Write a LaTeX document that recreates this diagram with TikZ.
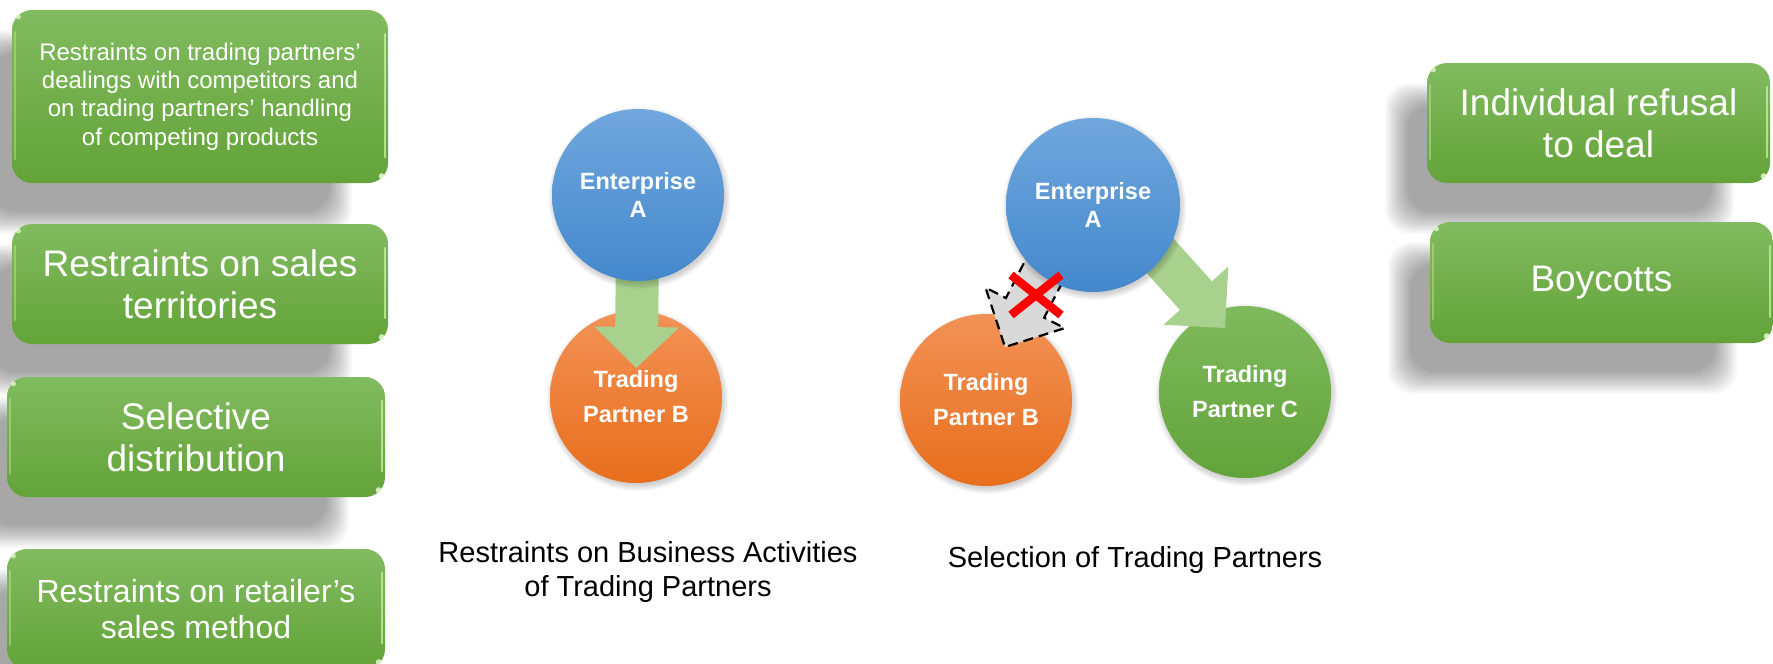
\documentclass[tikz,border=0pt]{standalone}
\usepackage{fontspec}
\setmainfont{Liberation Sans}
\usetikzlibrary{calc}

\definecolor{boxtop}{RGB}{129,187,96}
\definecolor{boxbot}{RGB}{99,163,56}
\definecolor{bluetop}{RGB}{112,167,221}
\definecolor{bluebot}{RGB}{68,136,204}
\definecolor{orangetop}{RGB}{242,146,86}
\definecolor{orangebot}{RGB}{232,110,28}
\definecolor{greentop}{RGB}{127,186,93}
\definecolor{greenbot}{RGB}{98,163,58}
\definecolor{arrowgreen}{RGB}{169,209,142}
\definecolor{rejectgray}{RGB}{217,217,217}
\definecolor{glintc}{RGB}{205,242,165}

\pgfdeclarelayer{front}
\pgfdeclarelayer{top}
\pgfsetlayers{main,front,top}

\tikzset{
  gbox/.style={draw=none, rounded corners=20pt, top color=boxtop, bottom color=boxbot,
    text=white, align=center, inner sep=0pt},
  bigtxt/.style={font=\fontsize{37}{41.7}\selectfont},
  party/.style={circle, inner sep=0pt, minimum size=172pt, text=white, align=center},
  entfont/.style={font=\bfseries\fontsize{23.5}{28}\selectfont},
  tpfont/.style={font=\bfseries\fontsize{23.5}{35}\selectfont},
  bluefill/.style={top color=bluetop, bottom color=bluebot},
  orangefill/.style={top color=orangetop, bottom color=orangebot},
  greenfill/.style={top color=greentop, bottom color=greenbot},
  caption/.style={inner sep=0pt, text=black, align=center, font=\fontsize{29}{34}\selectfont},
  keeparrow/.style={fill=arrowgreen},
  droparrow/.style={fill=rejectgray, draw=black, line width=2.2pt, dash pattern=on 10pt off 6pt, line join=miter},
  crossline/.style={draw=red, line width=8.5pt}
}

% soft shadow under a box: stacked translucent rounded rectangles
\newcommand\boxshadow[4]{%
  \foreach \k in {0,...,15}{%
    \fill[black, opacity=0.022, rounded corners=24pt]
      ({#1+\k*1.5},{#2+\k*1.5}) rectangle ({#3-\k*1.5},{#4-\k*1.5});}}

% soft shadow under a disc
\newcommand\discshadow[2]{%
  \foreach \k in {0,...,5}{%
    \fill[black, opacity=0.03] ($(#1)+(1.5,3)$) circle[radius={#2+5-\k*1.2}];}}

% glossy edge highlights of a box
\newcommand\glint[1]{%
  \draw[glintc, line width=2pt, opacity=0.75, line cap=round]
    ([xshift=-3.5pt,yshift=-24pt]#1.north east) -- ([xshift=-3.5pt,yshift=26pt]#1.south east);
  \draw[glintc, line width=2pt, opacity=0.4, line cap=round]
    ([xshift=3.5pt,yshift=-22pt]#1.north west) -- ([xshift=3.5pt,yshift=24pt]#1.south west);
  \fill[glintc!50!white, opacity=0.85] ([xshift=-6.5pt,yshift=7pt]#1.south east) circle[radius=3pt];
  \fill[glintc!50!white, opacity=0.75] ([xshift=6.5pt,yshift=-7pt]#1.north west) circle[radius=2.6pt];}

% block arrow: start, tip, head length, head half-width, shaft half-width, style
\newcommand\blockarrow[6]{%
  \coordinate (ba-h) at ($(#2)!#3!(#1)$);
  \path[#6] ($(#1)!#5!90:(#2)$) -- ($(ba-h)!#5!90:(#2)$) -- ($(ba-h)!#4!90:(#2)$)
    -- (#2) -- ($(ba-h)!#4!-90:(#2)$) -- ($(ba-h)!#5!-90:(#2)$) -- ($(#1)!#5!-90:(#2)$) -- cycle;}

\begin{document}
\begin{tikzpicture}[x=1pt,y=-1pt]
\useasboundingbox (0,0) rectangle (1773,664);
\fill[white] (0,0) rectangle (1773,664);
\clip (0,0) rectangle (1773,664);

% ---------- box shadows ----------
\boxshadow{-30}{30}{352}{234}
\boxshadow{-30}{244}{352}{395}
\boxshadow{-35}{397}{349}{548}
\boxshadow{-35}{569}{349}{720}
\boxshadow{1385}{83}{1734}{234}
\boxshadow{1388}{242}{1737}{394}

% ---------- left column ----------
\node[gbox, minimum width=376pt, minimum height=173pt, font=\fontsize{24}{28.3}\selectfont] (L1) at (200,96.5)
  {Restraints on trading partners’\\dealings with competitors and\\on trading partners’ handling\\of competing products};
\node[gbox, bigtxt, minimum width=376pt, minimum height=120pt] (L2) at (200,284) {Restraints on sales\\territories};
\node[gbox, bigtxt, minimum width=378pt, minimum height=120pt] (L3) at (196,437) {Selective\\distribution};
\node[gbox, minimum width=378pt, minimum height=120pt, font=\fontsize{32}{36.7}\selectfont] (L4) at (196,609)
  {Restraints on retailer’s\\sales method};

% ---------- right column ----------
\node[gbox, bigtxt, minimum width=343pt, minimum height=120pt] (R1) at (1598.5,123) {Individual refusal\\to deal};
\node[gbox, bigtxt, minimum width=343pt, minimum height=121pt] (R2) at (1601.5,282.5) {Boycotts};

\glint{L1}\glint{L2}\glint{L3}\glint{L4}\glint{R1}\glint{R2}

% ---------- first scheme: restraint on a trading partner ----------
\coordinate (pA1) at (638,195);
\coordinate (pB1) at (636,397);
\discshadow{pB1}{86}
\node[party, orangefill, tpfont] (B1) at (pB1) {Trading\\Partner B};
\begin{pgfonlayer}{front}
  \discshadow{pA1}{86}
  \node[party, bluefill, entfont] (A1) at (pA1) {Enterprise\\A};
\end{pgfonlayer}
\coordinate (t1) at ($(A1.center)!173pt!(B1.center)$);
\blockarrow{A1.center}{t1}{41pt}{42.5pt}{21.5pt}{keeparrow}

\node[caption, anchor=north] (cap1) at (648,541) {Restraints on Business Activities\\of Trading Partners};

% ---------- second scheme: selection of trading partners ----------
\coordinate (pA2) at (1093,205);
\coordinate (pB2) at (986,400);
\coordinate (pC2) at (1245,392);
\discshadow{pB2}{86}
\discshadow{pC2}{86}
\node[party, orangefill, tpfont] (B2) at (pB2) {Trading\\Partner B};
\node[party, greenfill, tpfont] (C2) at (pC2) {Trading\\Partner C};
\begin{pgfonlayer}{front}
  \discshadow{pA2}{87}
  \node[party, bluefill, entfont, minimum size=174pt] (A2) at (pA2) {Enterprise\\A};
\end{pgfonlayer}

% accepted partner
\coordinate (s2) at ($(A2.center)+(8,-15)$);
\coordinate (t2) at ($(C2.center)+(-20,-64)$);
\blockarrow{s2}{t2}{43.5pt}{43.5pt}{21.5pt}{keeparrow}

% refused partner
\coordinate (s3) at ($(A2.center)+(-6,-18)$);
\coordinate (t3) at ($(B2.center)+(19,-53)$);
\blockarrow{s3}{t3}{44pt}{44.5pt}{21.5pt}{droparrow}

\begin{pgfonlayer}{top}
  \coordinate (xc) at ($(A2.center)+(-57,90)$);
  \draw[crossline] ($(xc)+(-25,-20)$) -- ($(xc)+(25,20)$);
  \draw[crossline] ($(xc)+(25,-20)$) -- ($(xc)+(-25,20)$);
\end{pgfonlayer}

\node[caption, anchor=base] (cap2) at (1135,567) {Selection of Trading Partners};
\end{tikzpicture}
\end{document}
